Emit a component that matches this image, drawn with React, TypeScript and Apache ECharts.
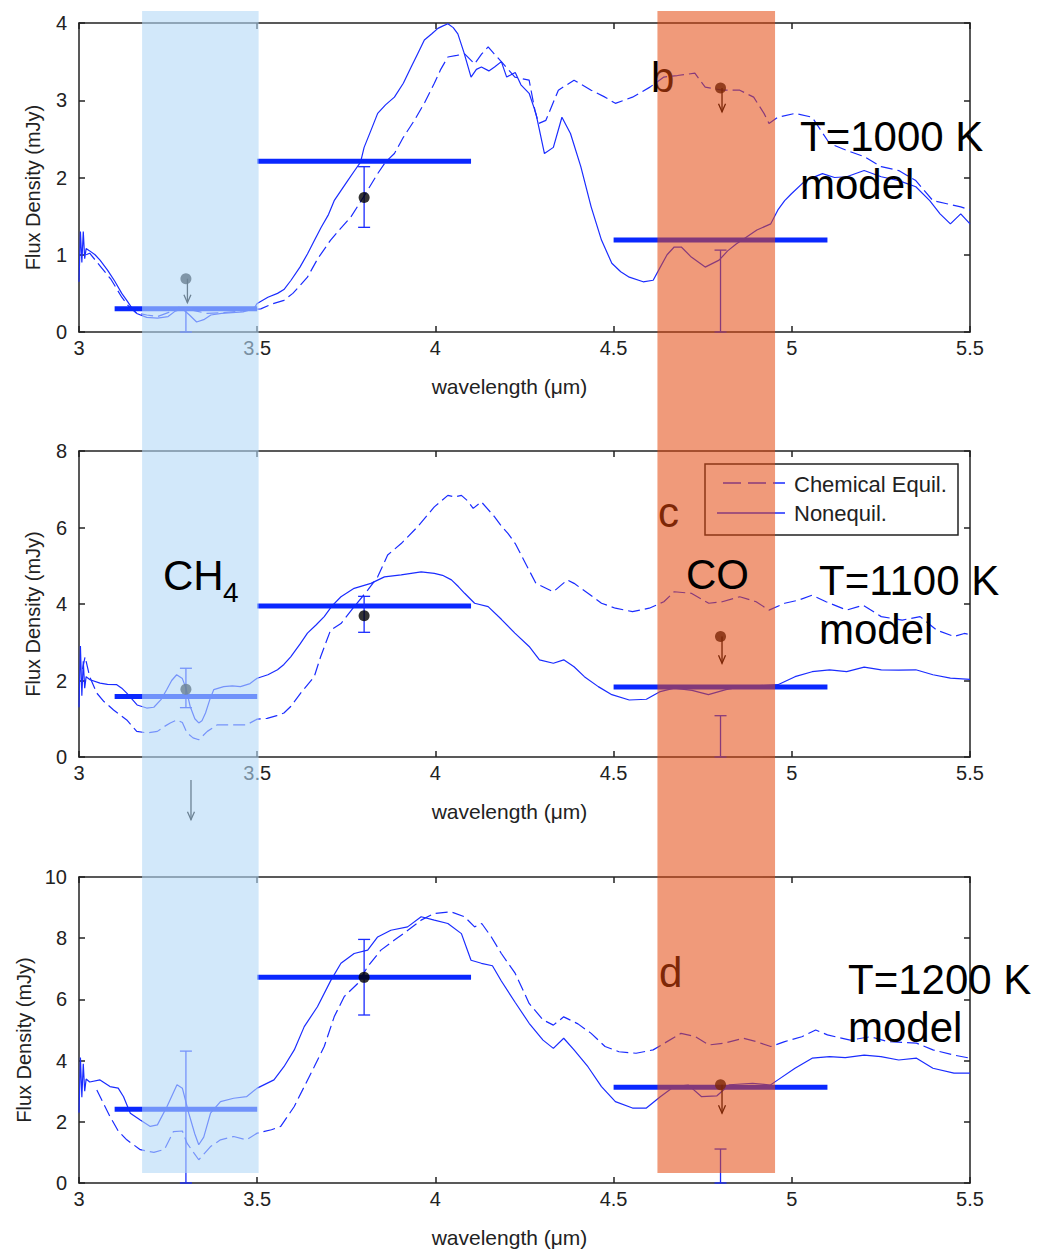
import React, { useEffect, useRef } from "react";
import * as echarts from "echarts";

const FONT = '"Liberation Sans", Arial, Helvetica, sans-serif';

// ---- axes ----
const xMin = 3;
const xMax = 5.5;
const xStep = 0.5;
const yMaxes = [4, 8, 10];
const ySteps = [1, 2, 2];

// ---- shaded absorption bands (µm) ----
const ch4Band = [3.177, 3.504];
const coBand = [4.623, 4.953];

// ---- Panel 1: T=1000 K ----
const p1Equil = [
  [3.02, 1.0], [3.03, 1.02], [3.06, 0.85], [3.09, 0.68], [3.12, 0.45], [3.14, 0.33], [3.16, 0.25],
  [3.19, 0.22], [3.22, 0.2], [3.25, 0.25], [3.28, 0.32], [3.3, 0.3], [3.33, 0.27], [3.36, 0.24],
  [3.4, 0.25], [3.45, 0.27], [3.51, 0.3], [3.54, 0.36], [3.575, 0.41], [3.6, 0.5], [3.62, 0.6],
  [3.641, 0.71], [3.67, 0.95], [3.706, 1.19], [3.73, 1.32], [3.763, 1.49], [3.8, 1.76], [3.838, 2.05],
  [3.86, 2.2], [3.885, 2.31], [3.91, 2.52], [3.941, 2.74], [3.97, 2.97], [3.997, 3.22], [4.015, 3.4],
  [4.035, 3.56], [4.06, 3.58], [4.082, 3.6], [4.11, 3.47], [4.13, 3.6], [4.148, 3.69], [4.165, 3.6],
  [4.185, 3.5], [4.223, 3.3], [4.263, 3.26], [4.28, 2.85], [4.29, 2.7], [4.31, 2.74], [4.345, 3.13],
  [4.389, 3.26], [4.437, 3.13], [4.476, 3.04], [4.505, 2.96], [4.553, 3.04], [4.602, 3.17],
  [4.641, 3.3], [4.679, 3.32], [4.728, 3.35], [4.757, 3.17], [4.805, 3.13], [4.854, 3.13],
  [4.893, 3.04], [4.922, 2.83], [4.936, 2.7], [4.961, 2.78], [5.009, 2.83], [5.057, 2.78],
  [5.106, 2.44], [5.154, 2.35], [5.203, 2.27], [5.251, 2.14], [5.3, 2.09], [5.348, 1.96],
  [5.396, 1.7], [5.435, 1.66], [5.474, 1.62], [5.5, 1.58],
];
const p1Noneq = [
  [3.0, 0.65], [3.004, 1.3], [3.008, 0.9], [3.012, 1.3], [3.016, 0.95], [3.02, 1.08], [3.03, 1.05],
  [3.045, 1.0], [3.059, 0.93], [3.08, 0.8], [3.1, 0.66], [3.12, 0.5], [3.134, 0.41], [3.15, 0.3],
  [3.162, 0.24], [3.19, 0.19], [3.22, 0.18], [3.25, 0.2], [3.27, 0.27], [3.29, 0.3], [3.31, 0.22],
  [3.33, 0.13], [3.35, 0.16], [3.37, 0.22], [3.4, 0.24], [3.43, 0.25], [3.46, 0.26], [3.49, 0.3],
  [3.5, 0.37], [3.53, 0.45], [3.557, 0.5], [3.575, 0.55], [3.595, 0.67], [3.62, 0.84], [3.641, 1.01],
  [3.66, 1.18], [3.68, 1.36], [3.7, 1.52], [3.716, 1.7], [3.735, 1.83], [3.754, 1.96], [3.775, 2.1],
  [3.79, 2.2], [3.8, 2.39], [3.82, 2.62], [3.838, 2.83], [3.86, 2.94], [3.885, 3.04], [3.91, 3.22],
  [3.932, 3.43], [3.95, 3.6], [3.969, 3.78], [3.99, 3.86], [4.007, 3.93], [4.02, 3.96], [4.035, 3.99],
  [4.05, 3.94], [4.063, 3.86], [4.08, 3.62], [4.1, 3.3], [4.115, 3.4], [4.129, 3.43], [4.15, 3.38],
  [4.166, 3.43], [4.185, 3.5], [4.2, 3.3], [4.224, 3.36], [4.24, 3.2], [4.263, 3.09], [4.282, 2.83],
  [4.306, 2.31], [4.331, 2.39], [4.355, 2.78], [4.379, 2.57], [4.408, 2.14], [4.437, 1.62],
  [4.466, 1.19], [4.495, 0.89], [4.52, 0.78], [4.544, 0.71], [4.583, 0.65], [4.611, 0.67],
  [4.631, 0.84], [4.65, 1.0], [4.67, 1.1], [4.69, 1.1], [4.718, 0.97], [4.757, 0.84], [4.796, 0.93],
  [4.82, 1.05], [4.844, 1.14], [4.87, 1.22], [4.902, 1.32], [4.941, 1.4], [4.961, 1.58], [4.98, 1.7],
  [4.999, 1.79], [5.038, 1.96], [5.086, 2.05], [5.12, 2.0], [5.154, 2.01], [5.203, 2.09],
  [5.251, 2.01], [5.3, 1.96], [5.348, 1.88], [5.387, 1.7], [5.416, 1.53], [5.445, 1.4],
  [5.474, 1.53], [5.5, 1.4],
];
const p1Bars = [[3.1, 3.5, 0.3], [3.5, 4.1, 2.21], [4.5, 5.1, 1.19]];
const p1Dots = [[3.3, 0.69], [3.8, 1.74], [4.8, 3.16]];
const p1Errs = [[3.3, 0, 0.3], [3.8, 1.355, 2.14], [4.8, 0, 1.06]];
const p1Arrows = [[3.3, 0.69, 0.38], [4.8, 3.16, 2.85]];

// ---- Panel 2: T=1100 K ----
const p2Equil = [
  [3.01, 2.3], [3.017, 2.62], [3.03, 2.1], [3.05, 1.67], [3.07, 1.45], [3.097, 1.23], [3.134, 0.97],
  [3.15, 0.8], [3.162, 0.67], [3.19, 0.63], [3.22, 0.67], [3.24, 0.8], [3.256, 0.89], [3.275, 0.97],
  [3.29, 0.9], [3.303, 0.63], [3.32, 0.5], [3.336, 0.45], [3.36, 0.67], [3.388, 0.84], [3.435, 0.84],
  [3.47, 0.84], [3.5, 0.99], [3.528, 1.01], [3.555, 1.08], [3.575, 1.15], [3.594, 1.32], [3.622, 1.67],
  [3.66, 2.1], [3.678, 2.62], [3.706, 3.32], [3.735, 3.49], [3.772, 3.93], [3.81, 4.36], [3.838, 4.71],
  [3.866, 5.28], [3.904, 5.58], [3.95, 6.02], [3.997, 6.54], [4.035, 6.84], [4.055, 6.8], [4.073, 6.84],
  [4.09, 6.7], [4.106, 6.5], [4.129, 6.67], [4.166, 6.28], [4.185, 6.04], [4.204, 5.84], [4.224, 5.58],
  [4.253, 5.06], [4.282, 4.54], [4.331, 4.32], [4.37, 4.63], [4.389, 4.54], [4.428, 4.28],
  [4.466, 4.02], [4.505, 3.89], [4.553, 3.8], [4.6, 3.89], [4.641, 4.06], [4.67, 4.32], [4.718, 4.28],
  [4.767, 4.02], [4.805, 4.06], [4.854, 4.19], [4.9, 4.06], [4.936, 3.84], [4.98, 4.02], [5.019, 4.1],
  [5.057, 4.23], [5.096, 4.06], [5.154, 3.84], [5.2, 3.97], [5.251, 3.67], [5.31, 3.58], [5.36, 3.67],
  [5.406, 3.32], [5.455, 3.15], [5.484, 3.23], [5.5, 3.2],
];
const p2Noneq = [
  [3.0, 1.3], [3.004, 2.9], [3.008, 1.6], [3.012, 2.5], [3.016, 1.8], [3.02, 2.1], [3.031, 2.02],
  [3.059, 1.93], [3.08, 1.9], [3.106, 1.89], [3.12, 1.8], [3.134, 1.67], [3.15, 1.5], [3.163, 1.36],
  [3.19, 1.28], [3.21, 1.3], [3.23, 1.5], [3.246, 1.76], [3.26, 2.0], [3.274, 2.15], [3.29, 2.05],
  [3.3, 1.8], [3.312, 1.32], [3.325, 1.0], [3.336, 0.89], [3.345, 0.95], [3.355, 1.15], [3.367, 1.5],
  [3.378, 1.76], [3.406, 1.84], [3.43, 1.86], [3.453, 1.84], [3.48, 1.92], [3.5, 2.06], [3.53, 2.15],
  [3.557, 2.28], [3.575, 2.42], [3.594, 2.62], [3.62, 2.95], [3.641, 3.24], [3.665, 3.45],
  [3.688, 3.67], [3.71, 3.95], [3.735, 4.19], [3.772, 4.41], [3.819, 4.54], [3.857, 4.71],
  [3.904, 4.76], [3.96, 4.84], [3.997, 4.8], [4.02, 4.75], [4.045, 4.63], [4.065, 4.45], [4.082, 4.28],
  [4.11, 4.02], [4.148, 3.93], [4.185, 3.6], [4.223, 3.24], [4.263, 2.89], [4.292, 2.54],
  [4.331, 2.45], [4.36, 2.54], [4.389, 2.36], [4.418, 2.1], [4.457, 1.84], [4.495, 1.63],
  [4.544, 1.49], [4.592, 1.51], [4.631, 1.71], [4.67, 1.8], [4.72, 1.74], [4.766, 1.63], [4.815, 1.76],
  [4.86, 1.84], [4.961, 1.89], [5.009, 2.1], [5.057, 2.23], [5.106, 2.28], [5.154, 2.23],
  [5.203, 2.35], [5.251, 2.28], [5.3, 2.27], [5.348, 2.28], [5.396, 2.15], [5.445, 2.06], [5.5, 2.03],
];
const p2Bars = [[3.1, 3.5, 1.58], [3.5, 4.1, 3.95], [4.5, 5.1, 1.83]];
const p2Dots = [[3.3, 1.77], [3.8, 3.69], [4.8, 3.15]];
const p2Errs = [[3.3, 1.29, 2.32], [3.8, 3.26, 4.2], [4.8, 0, 1.08]];
const p2Arrows = [[4.8, 3.15, 2.45], [3.31, -0.6, -1.64]];

// ---- Panel 3: T=1200 K ----
const p3Equil = [
  [3.05, 3.04], [3.087, 2.17], [3.11, 1.7], [3.134, 1.41], [3.172, 1.09], [3.21, 1.0], [3.24, 1.1],
  [3.265, 1.68], [3.29, 1.7], [3.303, 1.3], [3.336, 0.76], [3.369, 1.19], [3.397, 1.41],
  [3.434, 1.52], [3.47, 1.41], [3.5, 1.63], [3.54, 1.74], [3.566, 1.85], [3.604, 2.5], [3.632, 3.15],
  [3.66, 3.8], [3.688, 4.46], [3.716, 5.43], [3.744, 6.09], [3.782, 6.52], [3.81, 7.07], [3.847, 7.61],
  [3.885, 7.94], [3.91, 8.15], [3.96, 8.59], [3.997, 8.81], [4.044, 8.86], [4.082, 8.7], [4.11, 8.37],
  [4.13, 8.48], [4.157, 8.04], [4.185, 7.5], [4.224, 6.85], [4.263, 5.87], [4.302, 5.33],
  [4.331, 5.16], [4.36, 5.43], [4.4, 5.2], [4.437, 4.89], [4.476, 4.46], [4.515, 4.29], [4.563, 4.24],
  [4.611, 4.35], [4.65, 4.62], [4.689, 4.89], [4.73, 4.78], [4.767, 4.51], [4.81, 4.57],
  [4.864, 4.73], [4.9, 4.62], [4.941, 4.46], [4.98, 4.62], [5.028, 4.78], [5.067, 5.0], [5.1, 4.84],
  [5.164, 4.67], [5.22, 4.78], [5.27, 4.62], [5.35, 4.57], [5.396, 4.35], [5.455, 4.18], [5.5, 4.08],
];
const p3Noneq = [
  [3.0, 2.3], [3.004, 4.1], [3.008, 2.8], [3.012, 3.9], [3.016, 3.0], [3.02, 3.4], [3.03, 3.3],
  [3.059, 3.37], [3.087, 3.15], [3.11, 3.1], [3.125, 2.82], [3.144, 2.28], [3.172, 2.06], [3.2, 1.85],
  [3.22, 1.9], [3.247, 2.5], [3.275, 3.21], [3.29, 3.1], [3.308, 2.28], [3.325, 1.6], [3.336, 1.25],
  [3.35, 1.5], [3.369, 2.28], [3.397, 2.66], [3.434, 2.77], [3.47, 2.82], [3.5, 3.1], [3.547, 3.37],
  [3.575, 3.8], [3.604, 4.35], [3.632, 5.11], [3.669, 5.76], [3.707, 6.63], [3.735, 7.18],
  [3.772, 7.5], [3.81, 7.61], [3.838, 8.04], [3.875, 8.26], [3.922, 8.37], [3.96, 8.7], [3.997, 8.59],
  [4.035, 8.48], [4.073, 8.15], [4.1, 7.28], [4.129, 7.18], [4.16, 7.1], [4.185, 6.6], [4.224, 5.9],
  [4.263, 5.22], [4.302, 4.67], [4.331, 4.4], [4.36, 4.73], [4.389, 4.35], [4.428, 3.8], [4.466, 3.15],
  [4.505, 2.66], [4.553, 2.45], [4.592, 2.45], [4.631, 2.82], [4.67, 3.15], [4.71, 3.2], [4.747, 2.82],
  [4.79, 2.85], [4.825, 3.21], [4.89, 3.26], [4.94, 3.2], [4.961, 3.37], [5.009, 3.75], [5.057, 4.08],
  [5.106, 4.13], [5.15, 4.1], [5.203, 4.18], [5.25, 4.13], [5.3, 4.02], [5.35, 4.08], [5.396, 3.75],
  [5.455, 3.59], [5.5, 3.59],
];
const p3Bars = [[3.1, 3.5, 2.41], [3.5, 4.1, 6.72], [4.5, 5.1, 3.13]];
const p3Dots = [[3.8, 6.72], [4.8, 3.21]];
const p3Errs = [[3.3, 0, 4.31], [3.8, 5.49, 7.96], [4.8, 0, 1.11]];
const p3Arrows = [[4.8, 3.21, 2.28]];

const panels = [
  { equil: p1Equil, noneq: p1Noneq, bars: p1Bars, dots: p1Dots, errs: p1Errs, arrows: p1Arrows },
  { equil: p2Equil, noneq: p2Noneq, bars: p2Bars, dots: p2Dots, errs: p2Errs, arrows: p2Arrows },
  { equil: p3Equil, noneq: p3Noneq, bars: p3Bars, dots: p3Dots, errs: p3Errs, arrows: p3Arrows },
];

const tempLabels = ["T=1000 K", "T=1100 K", "T=1200 K"];
const letterLabels = ["b", "c", "d"];
const legendNames = ["Chemical Equil.", "Nonequil."];

// ---- layout ----
const GRID_TOPS = [23, 451, 877];
const GRID_H = [309, 306, 306];
const GRID_LEFT = 79;
const GRID_W = 891;
const LINE_COLOR = "#1a2cff";
const BAR_COLOR = "#0a28ff";
const AXIS_COLOR = "#222";

function buildOption() {
  const grid = GRID_TOPS.map((t, i) => ({ left: GRID_LEFT, width: GRID_W, top: t, height: GRID_H[i] }));
  const xAxis: any[] = [];
  const yAxis: any[] = [];
  const series: any[] = [];
  panels.forEach((p, i) => {
    const axLine = { onZero: false, lineStyle: { color: AXIS_COLOR, width: 1.5 } };
    const axTick = { inside: true, length: 6, lineStyle: { color: AXIS_COLOR, width: 1.5 } };
    xAxis.push({
      type: "value", gridIndex: i, min: xMin, max: xMax, interval: xStep, position: "bottom",
      name: "wavelength (μm)", nameLocation: "middle", nameGap: 44,
      nameTextStyle: { fontSize: 21, color: AXIS_COLOR, fontFamily: FONT, padding: [0, 30, 0, 0] },
      axisLine: axLine, axisTick: axTick,
      axisLabel: { fontSize: 20, color: AXIS_COLOR, margin: 6, fontFamily: FONT },
      splitLine: { show: false },
    });
    xAxis.push({
      type: "value", gridIndex: i, min: xMin, max: xMax, interval: xStep, position: "top",
      axisLine: axLine, axisTick: axTick, axisLabel: { show: false }, splitLine: { show: false },
    });
    yAxis.push({
      type: "value", gridIndex: i, min: 0, max: yMaxes[i], interval: ySteps[i], position: "left",
      name: "Flux Density (mJy)", nameLocation: "middle", nameGap: 36, nameRotate: 90,
      nameTextStyle: { fontSize: 20, color: AXIS_COLOR, fontFamily: FONT, padding: [0, 20, 0, 0] },
      axisLine: axLine, axisTick: axTick,
      axisLabel: { fontSize: 20, color: AXIS_COLOR, margin: 12, fontFamily: FONT },
      splitLine: { show: false },
    });
    yAxis.push({
      type: "value", gridIndex: i, min: 0, max: yMaxes[i], interval: ySteps[i], position: "right",
      axisLine: axLine, axisTick: axTick, axisLabel: { show: false }, splitLine: { show: false },
    });
    const xi = 2 * i;
    const yi = 2 * i;
    series.push({
      type: "line", name: legendNames[0], xAxisIndex: xi, yAxisIndex: yi, data: p.equil,
      showSymbol: false, symbol: "none", z: 2,
      lineStyle: { color: LINE_COLOR, width: 1.2, type: [12, 5] },
    });
    series.push({
      type: "line", name: legendNames[1], xAxisIndex: xi, yAxisIndex: yi, data: p.noneq,
      showSymbol: false, symbol: "none", z: 2,
      lineStyle: { color: LINE_COLOR, width: 1.2, type: "solid" },
    });
    series.push({
      type: "custom", xAxisIndex: xi, yAxisIndex: yi, data: p.bars, z: 3,
      encode: { x: [0, 1], y: 2 },
      renderItem: (_params: any, api: any) => {
        const a = api.coord([api.value(0), api.value(2)]);
        const b = api.coord([api.value(1), api.value(2)]);
        return {
          type: "line",
          shape: { x1: a[0], y1: a[1], x2: b[0], y2: b[1] },
          style: { stroke: BAR_COLOR, lineWidth: 5 },
        };
      },
    });
    series.push({
      type: "custom", xAxisIndex: xi, yAxisIndex: yi, data: p.errs, z: 4,
      encode: { x: 0, y: [1, 2] },
      renderItem: (_params: any, api: any) => {
        const lo = api.coord([api.value(0), api.value(1)]);
        const hi = api.coord([api.value(0), api.value(2)]);
        const st = { stroke: LINE_COLOR, lineWidth: 1.3 };
        return {
          type: "group",
          children: [
            { type: "line", shape: { x1: lo[0], y1: lo[1], x2: hi[0], y2: hi[1] }, style: st },
            { type: "line", shape: { x1: hi[0] - 6, y1: hi[1], x2: hi[0] + 6, y2: hi[1] }, style: st },
            { type: "line", shape: { x1: lo[0] - 6, y1: lo[1], x2: lo[0] + 6, y2: lo[1] }, style: st },
          ],
        };
      },
    });
    series.push({
      type: "scatter", xAxisIndex: xi, yAxisIndex: yi, data: p.dots, z: 5,
      symbol: "circle", symbolSize: 11, itemStyle: { color: "#000" },
    });
    series.push({
      type: "custom", xAxisIndex: xi, yAxisIndex: yi, data: p.arrows, z: 5,
      encode: { x: 0, y: [1, 2] },
      renderItem: (_params: any, api: any) => {
        const s = api.coord([api.value(0), api.value(1)]);
        const e = api.coord([api.value(0), api.value(2)]);
        const x = s[0] + 1.5;
        const st = { stroke: "#000", lineWidth: 1.3, fill: "none" };
        return {
          type: "group",
          children: [
            { type: "line", shape: { x1: x, y1: s[1], x2: x, y2: e[1] }, style: st },
            { type: "polyline", shape: { points: [[x - 3.5, e[1] - 8], [x, e[1]], [x + 3.5, e[1] - 8]] }, style: st },
          ],
        };
      },
    });
  });
  return {
    animation: false,
    backgroundColor: "#fff",
    grid,
    xAxis,
    yAxis,
    series,
  };
}

const BAND_TOP = 11;
const BAND_BOTTOM = 1173;
const BIG = `42px ${FONT}`;

function txt(text: string, x: number, y: number, z: number, font = BIG, fill = "#000") {
  return {
    type: "text", x, y, z,
    style: { text, font, fill, align: "left", verticalAlign: "middle" },
  };
}

function buildGraphic(chart: any) {
  const ch0 = chart.convertToPixel({ xAxisIndex: 0 }, ch4Band[0]);
  const ch1 = chart.convertToPixel({ xAxisIndex: 0 }, ch4Band[1]);
  const co0 = chart.convertToPixel({ xAxisIndex: 0 }, coBand[0]);
  const co1 = chart.convertToPixel({ xAxisIndex: 0 }, coBand[1]);
  const legendFont = `22px ${FONT}`;
  return [
    // legend box (under the overlay)
    {
      type: "rect", z: 40,
      shape: { x: 705, y: 464, width: 253, height: 71 },
      style: { fill: "#fff", stroke: AXIS_COLOR, lineWidth: 1.5 },
    },
    {
      type: "line", z: 41, shape: { x1: 723, y1: 483, x2: 785, y2: 483 },
      style: { stroke: LINE_COLOR, lineWidth: 1.3, lineDash: [18, 7] },
    },
    {
      type: "line", z: 41, shape: { x1: 717, y1: 513, x2: 785, y2: 513 },
      style: { stroke: LINE_COLOR, lineWidth: 1.3 },
    },
    txt(legendNames[0], 794, 484, 41, legendFont, AXIS_COLOR),
    txt(legendNames[1], 794, 513, 41, legendFont, AXIS_COLOR),
    // panel letters (under overlay)
    txt(letterLabels[0], 651, 77, 50),
    txt(letterLabels[1], 658, 512, 50),
    txt(letterLabels[2], 659, 972, 50),
    // overlays
    {
      type: "rect", z: 100,
      shape: { x: ch0, y: BAND_TOP, width: ch1 - ch0, height: BAND_BOTTOM - BAND_TOP },
      style: { fill: "rgba(180,217,247,0.6)" },
    },
    {
      type: "rect", z: 100,
      shape: { x: co0, y: BAND_TOP, width: co1 - co0, height: BAND_BOTTOM - BAND_TOP },
      style: { fill: "rgba(228,71,13,0.55)" },
    },
    // labels on top
    txt("CH", 163, 575, 110),
    txt("4", 223, 592, 110, `28px ${FONT}`),
    txt("CO", 686, 574, 110),
    txt(tempLabels[0], 800, 136, 110),
    txt("model", 800, 184, 110),
    txt(tempLabels[1], 819, 580, 110),
    txt("model", 819, 629, 110),
    txt(tempLabels[2], 848, 979, 110),
    txt("model", 848, 1027, 110),
  ];
}

export default function App() {
  const ref = useRef<HTMLDivElement>(null);
  useEffect(() => {
    if (!ref.current) return;
    const chart = echarts.init(ref.current, null, { renderer: "svg" });
    chart.setOption(buildOption() as any);
    chart.setOption({ graphic: buildGraphic(chart) } as any);
    return () => chart.dispose();
  }, []);
  return (
    <div
      ref={ref}
      style={{ position: "absolute", left: 0, top: 0, width: 1037, height: 1252, background: "#fff" }}
    />
  );
}
